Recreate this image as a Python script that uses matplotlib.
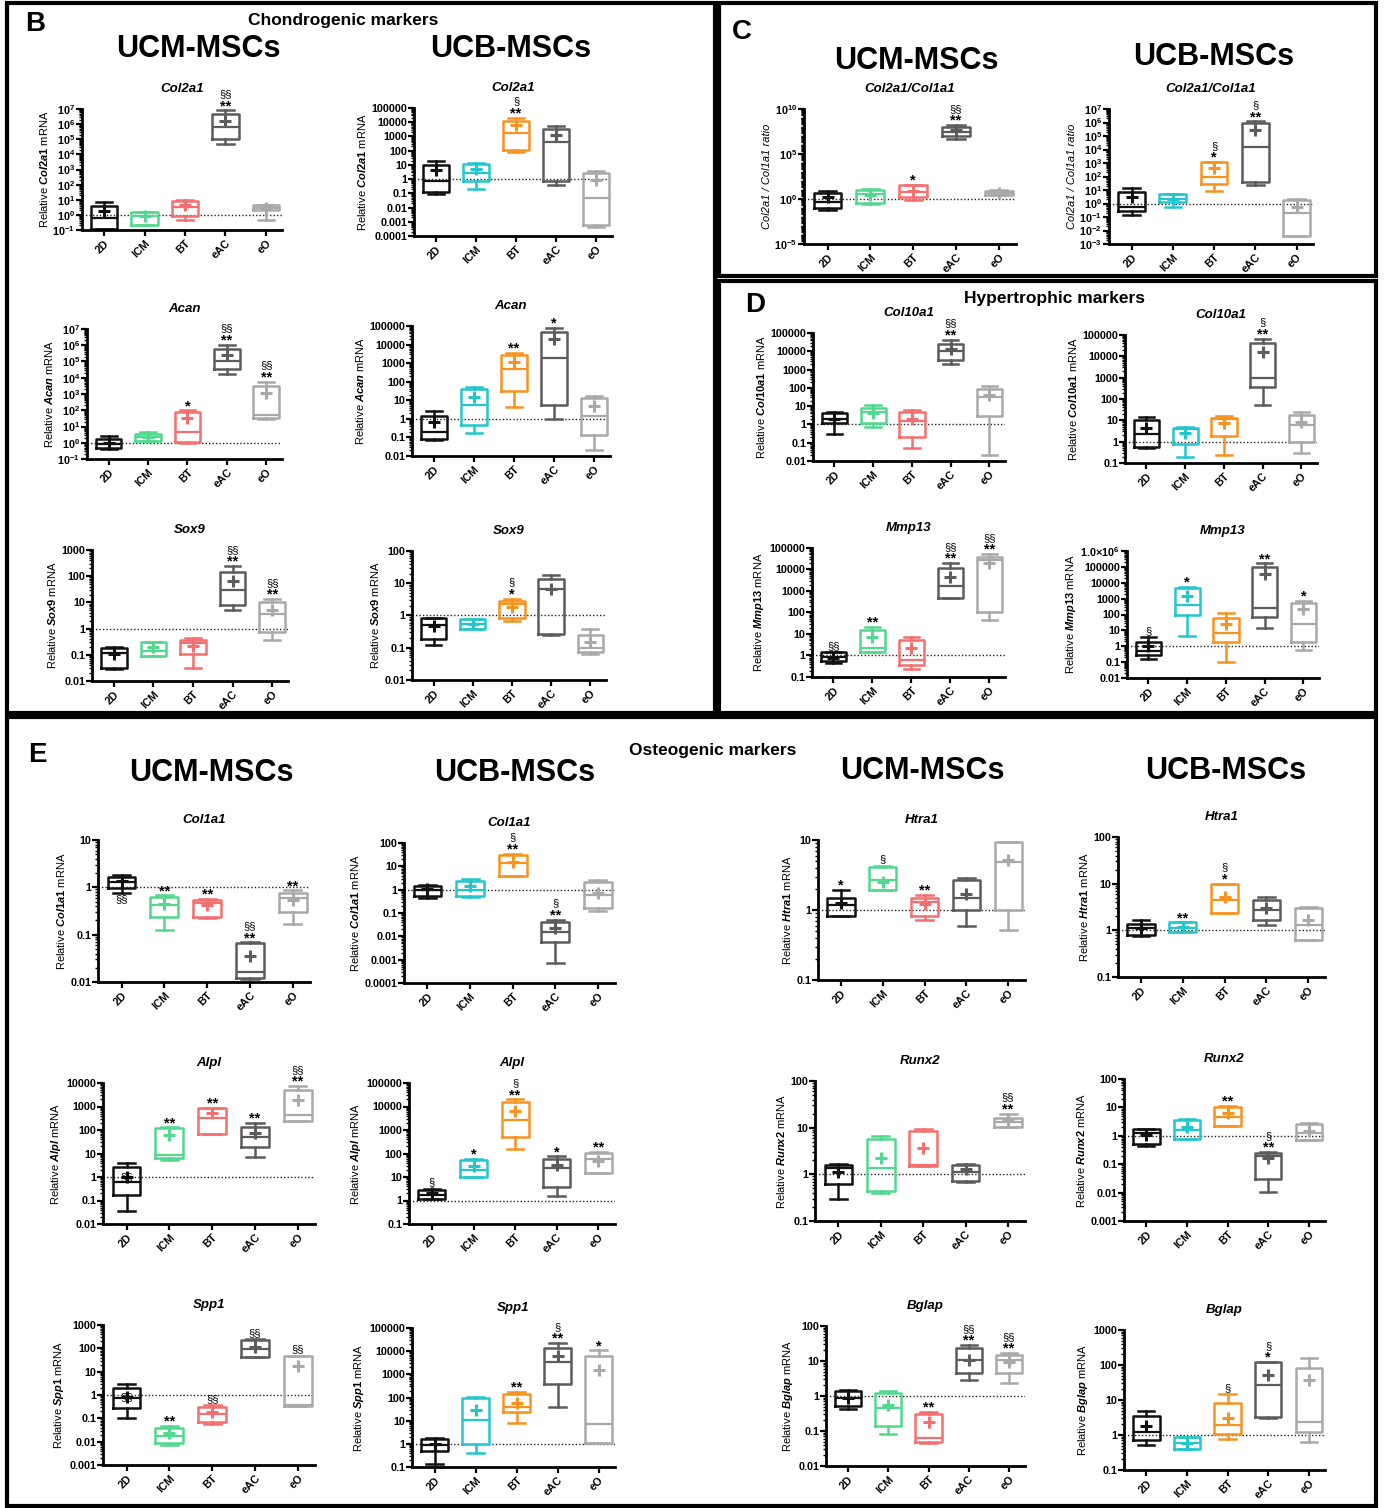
import matplotlib
matplotlib.use('Agg')
import matplotlib.pyplot as plt
from matplotlib.ticker import FixedLocator, LogLocator, FuncFormatter, NullFormatter
from matplotlib.patches import Rectangle
import numpy as np

plt.rcParams['font.family'] = ['Liberation Sans', 'DejaVu Sans']
plt.rcParams['font.weight'] = 'bold'
plt.rcParams['mathtext.fontset'] = 'custom'
plt.rcParams['mathtext.rm'] = 'Liberation Sans:bold'
plt.rcParams['mathtext.bf'] = 'Liberation Sans:bold'
plt.rcParams['mathtext.it'] = 'Liberation Sans:italic:bold'

W, H = 1389, 1508

groups = ['2D', 'ICM', 'BT', 'eAC', 'eO']
ucm_colors = ['#111111', '#52d88f', '#f46f6f', '#5c5c5c', '#a9a9a9']
ucb_colors = ['#111111', '#22c6cc', '#f7931e', '#5c5c5c', '#a9a9a9']

# rows: whisker low, q1, median, q3, whisker high, mean, significance
# sig prefix "v" = written under the box, "=" = written on the box
b_ucm_col2a1 = [(0.12, 0.12, 0.62, 3.8, 7.5, 1.8, ''),
                (0.2, 0.2, 0.8, 1.6, 1.6, 0.8, ''),
                (0.44, 0.9, 3.3, 8.5, 9.5, 4.2, ''),
                (5e4, 1e5, 6e5, 5e6, 8e6, 1.6e6, '§§\n**'),
                (0.44, 2.0, 3.0, 4.2, 4.8, 3.0, '')]
b_ucb_col2a1 = [(0.088, 0.12, 0.69, 9.1, 19.5, 4.1, ''),
                (0.21, 0.69, 2.6, 12, 13.3, 5, ''),
                (75, 115, 1700, 13000, 21000, 5900, '§\n**'),
                (0.4, 0.69, 440, 3100, 5500, 1300, ''),
                (0.0004, 0.00055, 0.05, 2.6, 3.5, 0.8, '')]
b_ucm_acan = [(0.43, 0.5, 0.85, 1.6, 2.6, 0.95, ''),
              (1.27, 1.27, 2.2, 3.7, 4.5, 2.2, ''),
              (0.9, 1.1, 4.5, 76, 100, 34, '*'),
              (1.7e4, 3.6e4, 1e5, 5.9e5, 1.1e6, 2.6e5, '§§\n**'),
              (27, 33, 50, 3000, 5800, 1170, '§§\n**')]
b_ucb_acan = [(0.075, 0.084, 0.19, 1.5, 2.6, 0.66, ''),
              (0.18, 0.48, 5.7, 41, 50, 14.7, ''),
              (4.6, 33, 460, 2800, 3700, 1100, '**'),
              (1.0, 5.7, 1900, 46000, 80000, 19000, '*'),
              (0.021, 0.137, 1.4, 13.5, 16.6, 4.9, '')]
b_ucm_sox9 = [(0.028, 0.031, 0.117, 0.18, 0.2, 0.11, ''),
              (0.087, 0.087, 0.136, 0.3, 0.3, 0.2, ''),
              (0.032, 0.11, 0.27, 0.38, 0.44, 0.21, ''),
              (5.3, 7.8, 29, 147, 245, 66, '§§\n**'),
              (0.36, 0.75, 3.75, 10.5, 13.3, 5.3, '§§\n**')]
b_ucb_sox9 = [(0.12, 0.185, 0.5, 0.81, 0.81, 0.48, ''),
              (0.38, 0.38, 0.53, 0.77, 0.77, 0.53, ''),
              (0.68, 0.85, 2.2, 2.8, 3.35, 1.85, '§\n*'),
              (0.25, 0.26, 6.8, 14, 17.7, 6.5, ''),
              (0.064, 0.075, 0.1, 0.24, 0.37, 0.146, '')]
c_ucm_ratio = [(0.06, 0.09, 0.42, 4.4, 7, 1.5, ''),
               (0.27, 0.32, 3.7, 11, 13, 3, ''),
               (0.77, 1.8, 5.6, 32, 40, 8.7, '*'),
               (5e6, 9e6, 3e7, 1.1e8, 1.7e8, 5e7, '§§\n**'),
               (2.6, 2.6, 4.7, 8.7, 11, 4.7, '')]
c_ucb_ratio = [(0.15, 0.27, 0.56, 7.3, 14, 2.8, ''),
               (0.56, 1.2, 2.3, 4.9, 4.9, 2.3, ''),
               (8.2, 27, 85, 1200, 1200, 460, '§\n*'),
               (23, 40, 1.6e4, 8.5e5, 1.2e6, 3e5, '§\n**'),
               (0.004, 0.004, 0.21, 1.8, 2, 0.56, '')]
d_ucm_col10a1 = [(0.3, 1.13, 2.1, 4, 4.9, 1.9, ''),
                 (0.69, 1.13, 4.9, 8.4, 11.3, 4.3, ''),
                 (0.053, 0.196, 1.6, 4.9, 6, 2.1, ''),
                 (2100, 3200, 11000, 26000, 43000, 13000, '§§\n**'),
                 (0.021, 3, 32, 92, 130, 40, '')]
d_ucb_col10a1 = [(0.5, 0.56, 2.4, 10.8, 14.5, 4.4, ''),
                 (0.2, 0.8, 3.9, 4.4, 4.9, 2.5, ''),
                 (0.245, 1.8, 11.6, 13, 16.7, 7.6, ''),
                 (55, 370, 980, 40000, 67000, 16000, '§\n**'),
                 (0.29, 1, 6.3, 17, 25.6, 8.1, '')]
d_ucm_mmp13 = [(0.44, 0.53, 0.84, 1.38, 1.38, 0.75, '§§'),
               (1.38, 1.5, 2.2, 15.6, 22, 6.9, '**'),
               (0.24, 0.37, 0.63, 5.3, 7.1, 2.35, ''),
               (460, 460, 1750, 11500, 20000, 4700, '§§\n**'),
               (45, 110, 28000, 40000, 52000, 21000, '§§\n**')]
d_ucb_mmp13 = [(0.16, 0.285, 0.51, 1.96, 3.7, 1.0, '§'),
               (4.7, 93, 390, 4400, 5600, 1450, '*'),
               (0.099, 1.8, 6.6, 63, 118, 26.5, ''),
               (13.5, 73, 245, 96000, 170000, 35000, '**'),
               (0.56, 1.8, 24, 500, 740, 210, '*')]
e_ucm_col1a1 = [(0.75, 0.95, 1.3, 1.65, 1.8, 1.35, 'v§§'),
                (0.123, 0.24, 0.42, 0.61, 0.68, 0.44, '**'),
                (0.23, 0.24, 0.46, 0.53, 0.58, 0.42, '**'),
                (0.0114, 0.012, 0.016, 0.066, 0.069, 0.035, '§§\n**'),
                (0.166, 0.3, 0.59, 0.75, 0.86, 0.53, '**')]
e_ucb_col1a1 = [(0.45, 0.55, 1.0, 1.5, 1.6, 1.1, ''),
                (0.5, 0.55, 1.0, 2.4, 3.0, 1.5, ''),
                (4, 4, 14, 32, 35, 16, '§\n**'),
                (0.00074, 0.0059, 0.016, 0.042, 0.052, 0.023, '§\n**'),
                (0.125, 0.17, 0.6, 2.2, 2.7, 0.74, '')]
e_ucm_htra1 = [(0.82, 0.82, 1.18, 1.5, 1.93, 1.26, '*'),
               (1.93, 1.93, 2.7, 4.1, 4.25, 2.5, '§'),
               (0.72, 0.82, 1.3, 1.5, 1.64, 1.2, '**'),
               (0.6, 1.0, 1.5, 2.7, 2.9, 1.7, ''),
               (0.52, 1.0, 4.85, 9.4, 9.4, 5.2, '')]
e_ucb_htra1 = [(0.74, 0.78, 1.1, 1.4, 1.64, 1.1, ''),
               (0.9, 0.9, 1.1, 1.48, 1.48, 1.16, '**'),
               (2.3, 2.3, 4.4, 10, 10, 5.3, '§\n*'),
               (1.28, 1.64, 2.7, 4.4, 5.1, 3.0, ''),
               (0.61, 0.61, 1.28, 3.0, 3.1, 1.64, '')]
e_ucm_alpl = [(0.036, 0.17, 0.61, 2.7, 3.9, 1.0, '=§§'),
              (5.5, 6.5, 9, 120, 130, 60, '**'),
              (68, 68, 320, 870, 870, 530, '**'),
              (7, 19, 50, 134, 200, 75, '**'),
              (240, 240, 440, 5000, 7400, 1900, '§§\n**')]
e_ucb_alpl = [(1.2, 1.2, 1.8, 2.9, 3.2, 2.0, '§'),
              (10.5, 10.5, 19, 55, 61, 28, '*'),
              (160, 480, 2600, 16000, 20000, 6700, '§\n**'),
              (1.6, 3.6, 25, 61, 75, 34, '*'),
              (15.5, 15.5, 61, 110, 120, 50, '**')]
e_ucm_runx2 = [(0.29, 0.61, 1.4, 1.56, 1.64, 1.1, ''),
               (0.39, 0.45, 1.34, 5.6, 6.5, 2.2, ''),
               (1.48, 1.48, 1.56, 8.3, 9.2, 3.6, ''),
               (0.67, 0.71, 1.1, 1.56, 1.7, 1.28, ''),
               (10.2, 10.2, 13, 15.8, 20, 14.3, '§§\n**')]
e_ucb_runx2 = [(0.44, 0.52, 1.27, 1.76, 1.76, 1.1, ''),
               (0.78, 0.78, 1.6, 3.65, 4.0, 2.1, ''),
               (2.25, 2.25, 4.7, 10.5, 11.4, 6.5, '**'),
               (0.0107, 0.031, 0.2, 0.25, 0.27, 0.17, '§\n**'),
               (0.72, 0.72, 1.27, 2.6, 2.9, 1.5, '')]
e_ucm_spp1 = [(0.1, 0.28, 0.74, 2.0, 3.0, 0.82, '=§§'),
              (0.0071, 0.0087, 0.017, 0.038, 0.047, 0.023, '**'),
              (0.057, 0.069, 0.15, 0.3, 0.37, 0.19, '§§'),
              (43, 43, 95, 230, 250, 115, '§§'),
              (0.34, 0.34, 0.37, 47, 47, 17.6, '§§')]
e_ucb_spp1 = [(0.137, 0.5, 0.9, 1.64, 1.8, 1.0, ''),
              (0.41, 1.0, 10.8, 96, 106, 29, ''),
              (8, 24, 39, 142, 174, 58, '**'),
              (39, 385, 3400, 13800, 23000, 6200, '§\n**'),
              (1.1, 1.1, 7.3, 6200, 11000, 1550, '*')]
e_ucm_bglap = [(0.43, 0.52, 0.88, 1.4, 1.5, 0.88, ''),
               (0.082, 0.14, 0.45, 1.2, 1.4, 0.55, ''),
               (0.045, 0.048, 0.063, 0.3, 0.35, 0.18, '**'),
               (2.9, 4.5, 10.7, 23, 28.6, 10.7, '§§\n**'),
               (2.35, 4.5, 10.7, 15, 17, 9.4, '§§\n**')]
e_ucb_bglap = [(0.52, 0.72, 1.22, 3.5, 4.85, 1.8, ''),
               (0.4, 0.4, 0.59, 0.88, 0.88, 0.59, ''),
               (0.77, 1.07, 1.93, 8.2, 14.8, 3.1, '§'),
               (3.06, 3.3, 27, 122, 122, 52, '§\n*'),
               (0.63, 1.22, 2.35, 82, 158, 37, '')]

fig = plt.figure(figsize=(W / 100, H / 100), dpi=100)


def dec_fmt(v, pos):
    if v >= 1:
        return f"{v:.0f}"
    return f"{v:.10f}".rstrip('0')


def pow_fmt(v, pos):
    return r"$\mathbf{10^{%d}}$" % int(round(np.log10(v)))


def dec6_fmt(v, pos):
    if v >= 1e6 * 0.99:
        return r"1.0×10$^{6}$"
    return dec_fmt(v, pos)


def mark(ax, s, x, y, dy, va):
    # stars are drawn larger than the section signs, as in the source figure
    star = s.startswith('*')
    ax.annotate(s, (x, y), xytext=(0, dy - (3 if star and va == 'bottom' else 0)),
                textcoords='offset points', ha='center', va=va,
                fontsize=10.5 if star else 8, fontweight='bold' if star else 'normal')


def draw(data, title, ylab, colors, ylim, fmt, rect, majors=None):
    l, t, r, b = rect
    ax = fig.add_axes([l / W, 1 - b / H, (r - l) / W, (b - t) / H])
    ax.axhline(1, color='#222222', ls=(0, (1, 1.5)), lw=1, zorder=0)
    for i, row in enumerate(data):
        lo, q1, med, q3, hi, mean, sig = row
        c = colors[i]
        st = dict(whislo=lo, q1=q1, med=med, q3=q3, whishi=hi, mean=mean, label=groups[i])
        ax.bxp([st], positions=[i + 1], widths=0.65, capwidths=0.4,
               showmeans=True, showfliers=False,
               boxprops=dict(color=c, lw=1.8),
               whiskerprops=dict(color=c, lw=1.8),
               capprops=dict(color=c, lw=1.8),
               medianprops=dict(color=c, lw=1.6),
               meanprops=dict(marker='+', mec=c, mfc=c, ms=8, mew=2.2))
        if sig:
            if sig[0] == 'v':
                mark(ax, sig[1:], i + 1, lo, -1, 'top')
            elif sig[0] == '=':
                mark(ax, sig[1:], i + 1, mean, 0, 'center')
            else:
                lines = sig.split('\n')[::-1]
                dy = 1
                for ln in lines:
                    mark(ax, ln, i + 1, hi, dy, 'bottom')
                    dy += 7 if ln.startswith('*') else 9
    ax.set_yscale('log')
    ax.set_ylim(*ylim)
    ax.set_xlim(0.45, 5.4)
    if majors is None:
        k0, k1 = int(round(np.log10(ylim[0]))), int(round(np.log10(ylim[1])))
        majors = [10.0 ** k for k in range(k0, k1 + 1)]
    ax.yaxis.set_major_locator(FixedLocator(majors))
    ax.yaxis.set_minor_locator(LogLocator(base=10, subs=np.arange(1, 10), numticks=200))
    ax.yaxis.set_minor_formatter(NullFormatter())
    ax.yaxis.set_major_formatter(FuncFormatter({'dec': dec_fmt, 'pow': pow_fmt, 'dec6': dec6_fmt}[fmt]))
    ax.set_xticks(range(1, 6))
    ax.set_xticklabels(groups, rotation=45, ha='right', rotation_mode='anchor', fontsize=7.8)
    ax.tick_params(axis='y', which='major', length=4, width=1.6, labelsize=7.8, pad=1)
    ax.tick_params(axis='y', which='minor', length=2.5, width=1.0)
    ax.tick_params(axis='x', length=4, width=1.6, pad=2)
    for s in ('top', 'right'):
        ax.spines[s].set_visible(False)
    for s in ('left', 'bottom'):
        ax.spines[s].set_linewidth(2)
    ax.set_title(title, style='italic', fontweight='bold', fontsize=9.5, pad=12.5)
    if ylab.startswith('ratio'):
        ax.set_ylabel('Col2a1 / Col1a1 ratio', style='italic', fontsize=8, labelpad=2)
    else:
        ax.set_ylabel(r"Relative $\mathit{%s}$ mRNA" % ylab, fontsize=8, labelpad=2)
    return ax


charts = [
    (b_ucm_col2a1, 'Col2a1', 'Col2a1', ucm_colors, (0.1, 1e7), 'pow', (82, 109, 282, 230), None),
    (b_ucb_col2a1, 'Col2a1', 'Col2a1', ucb_colors, (1e-4, 1e5), 'dec', (414, 108, 612, 236), None),
    (b_ucm_acan, 'Acan', 'Acan', ucm_colors, (0.1, 1e7), 'pow', (87, 329, 282, 459), None),
    (b_ucb_acan, 'Acan', 'Acan', ucb_colors, (0.01, 1e5), 'dec', (412, 326, 610, 456), None),
    (b_ucm_sox9, 'Sox9', 'Sox9', ucm_colors, (0.01, 1000), 'dec', (92, 550, 288, 681), None),
    (b_ucb_sox9, 'Sox9', 'Sox9', ucb_colors, (0.01, 100), 'dec', (412, 551, 606, 680), None),
    (c_ucm_ratio, 'Col2a1/Col1a1', 'ratio', ucm_colors, (1e-5, 1e10), 'pow', (804, 109, 1016, 244),
     [1e-5, 1, 1e5, 1e10]),
    (c_ucb_ratio, 'Col2a1/Col1a1', 'ratio', ucb_colors, (1e-3, 1e7), 'pow', (1109, 109, 1313, 244), None),
    (d_ucm_col10a1, 'Col10a1', 'Col10a1', ucm_colors, (0.01, 1e5), 'dec', (813, 333, 1005, 461), None),
    (d_ucb_col10a1, 'Col10a1', 'Col10a1', ucb_colors, (0.1, 1e5), 'dec', (1125, 335, 1317, 463), None),
    (d_ucm_mmp13, 'Mmp13', 'Mmp13', ucm_colors, (0.1, 1e5), 'dec', (812, 548, 1005, 677), None),
    (d_ucb_mmp13, 'Mmp13', 'Mmp13', ucb_colors, (0.01, 1e6), 'dec6', (1127, 551, 1319, 678), None),
    (e_ucm_col1a1, 'Col1a1', 'Col1a1', ucm_colors, (0.01, 10), 'dec', (98, 840, 310, 982), None),
    (e_ucb_col1a1, 'Col1a1', 'Col1a1', ucb_colors, (1e-4, 100), 'dec', (404, 843, 615, 983), None),
    (e_ucm_htra1, 'Htra1', 'Htra1', ucm_colors, (0.1, 10), 'dec', (818, 840, 1025, 980), None),
    (e_ucb_htra1, 'Htra1', 'Htra1', ucb_colors, (0.1, 100), 'dec', (1118, 837, 1325, 977), None),
    (e_ucm_alpl, 'Alpl', 'Alpl', ucm_colors, (0.01, 1e4), 'dec', (103, 1083, 315, 1224), None),
    (e_ucb_alpl, 'Alpl', 'Alpl', ucb_colors, (0.1, 1e5), 'dec', (409, 1083, 615, 1224), None),
    (e_ucm_runx2, 'Runx2', 'Runx2', ucm_colors, (0.1, 100), 'dec', (815, 1081, 1025, 1221), None),
    (e_ucb_runx2, 'Runx2', 'Runx2', ucb_colors, (0.001, 100), 'dec', (1124, 1079, 1325, 1221), None),
    (e_ucm_spp1, 'Spp1', 'Spp1', ucm_colors, (0.001, 1000), 'dec', (103, 1325, 315, 1465), None),
    (e_ucb_spp1, 'Spp1', 'Spp1', ucb_colors, (0.1, 1e5), 'dec', (412, 1328, 615, 1467), None),
    (e_ucm_bglap, 'Bglap', 'Bglap', ucm_colors, (0.01, 100), 'dec', (826, 1326, 1025, 1466), None),
    (e_ucb_bglap, 'Bglap', 'Bglap', ucb_colors, (0.1, 1000), 'dec', (1124, 1330, 1325, 1470), None),
]

for ch in charts:
    draw(*ch)

# panel frames
for x0, y0, x1, y1 in [(7, 3, 715, 713), (719, 3, 1376, 276), (719, 281, 1376, 713), (7, 717, 1376, 1506)]:
    fig.add_artist(Rectangle((x0 / W, 1 - y1 / H), (x1 - x0) / W, (y1 - y0) / H,
                             transform=fig.transFigure, fill=False, lw=3, ec='black'))


def txt(x, y, s, size, ha='center'):
    fig.text(x / W, 1 - y / H, s, ha=ha, va='center', fontsize=size, fontweight='bold')


txt(35, 24, 'B', 20)
txt(343, 20, 'Chondrogenic markers', 12.5)
txt(198, 49, 'UCM-MSCs', 22)
txt(511, 49, 'UCB-MSCs', 22)
txt(742, 32, 'C', 20)
txt(916, 61, 'UCM-MSCs', 22)
txt(1214, 57, 'UCB-MSCs', 22)
txt(755, 305, 'D', 20)
txt(1055, 299, 'Hypertrophic markers', 12.5)
txt(37, 755, 'E', 20)
txt(713, 751, 'Osteogenic markers', 12.5)
txt(211, 773, 'UCM-MSCs', 22)
txt(515, 773, 'UCB-MSCs', 22)
txt(922, 771, 'UCM-MSCs', 22)
txt(1226, 771, 'UCB-MSCs', 22)

fig.savefig('out.png', dpi=100)
